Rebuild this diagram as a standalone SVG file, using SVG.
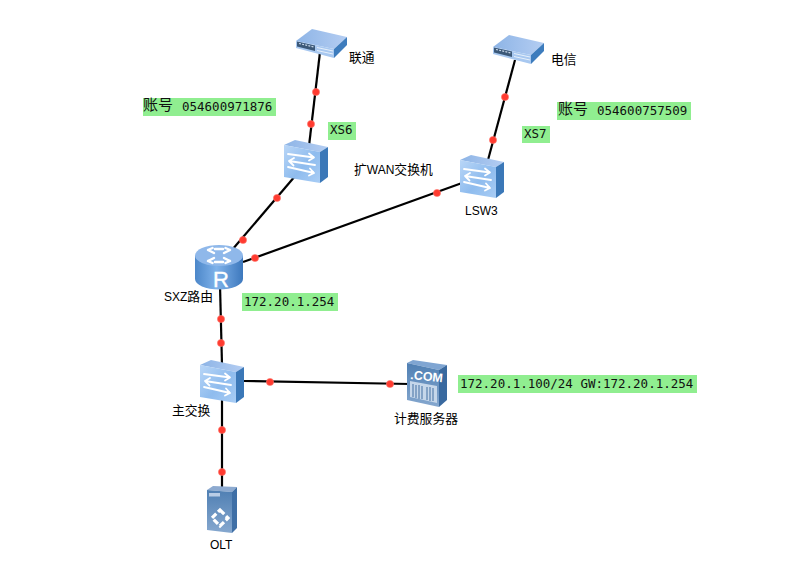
<svg xmlns="http://www.w3.org/2000/svg" width="808" height="576" viewBox="0 0 808 576">
  <style>
    .link { stroke: #000; stroke-width: 2.2; fill: none; }
    .dot { fill: #ff3b30; stroke: #ff7a70; stroke-width: 0.6; }
    .label { font-family: "Liberation Sans", "Noto Sans CJK SC", sans-serif; font-size: 12px; fill: #000; }
    .han { font-family: "Noto Sans CJK SC", sans-serif; font-size: 12.8px; font-weight: 400; }
    .note { fill: #90ee90; }
    .mono { font-family: "DejaVu Sans Mono", "Liberation Mono", monospace; font-size: 12.5px; fill: #111; }
    .cjk { font-family: "Noto Sans CJK SC", sans-serif; font-size: 15px; font-weight: 400; }
    .arrow { stroke: #fff; stroke-width: 1.8; fill: none; stroke-linecap: round; stroke-linejoin: round; }
    .spoke { stroke-width: 2.4; }
  </style>
  <defs>
    <linearGradient id="front" x1="0" y1="0" x2="1" y2="1">
      <stop offset="0" stop-color="#b9d6f7"/>
      <stop offset="0.55" stop-color="#8fbcee"/>
      <stop offset="1" stop-color="#a9cdf5"/>
    </linearGradient>
    <linearGradient id="top" x1="0" y1="0" x2="1" y2="0">
      <stop offset="0" stop-color="#8db4e6"/>
      <stop offset="1" stop-color="#b4cdf2"/>
    </linearGradient>
    <linearGradient id="drum" x1="0" y1="0" x2="1" y2="0">
      <stop offset="0" stop-color="#4c87c9"/>
      <stop offset="0.45" stop-color="#7fb2ea"/>
      <stop offset="1" stop-color="#3d78bd"/>
    </linearGradient>
    <linearGradient id="slate" x1="0" y1="0" x2="0" y2="1">
      <stop offset="0" stop-color="#4f7fb3"/>
      <stop offset="1" stop-color="#86a8cf"/>
    </linearGradient>
    <g id="switch">
      <polygon points="0,5 11,0 44,7 36,12" fill="url(#top)"/>
      <polygon points="0,5 36,12 36,43 0,37" fill="url(#front)"/>
      <polygon points="36,12 44,7 44,37 36,43" fill="#3b78b8"/>
      <path class="arrow" d="M4,14 L30,17.5 M25,13.5 L30,17.5 L25,20.5"/>
      <path class="arrow" d="M31,25 L5,21 M10,18 L5,21 L9.5,25.5"/>
      <path class="arrow" d="M4,27 L30,33 M26,28.5 L30,33 L25,35.5"/>
    </g>
    <g id="modem">
      <polygon points="0,12 16,0 51,8 38,20" fill="url(#top)"/>
      <polygon points="0,12 38,20 38,29 0,19" fill="#a8c8f0"/>
      <polygon points="1,12.5 19,16.5 19,22 1,17.5" fill="#3b5878"/>
      <path d="M3,14.5 L18,18" stroke="#c6d6e8" stroke-width="1.2" stroke-dasharray="2 1.2"/>
      <polygon points="38,20 51,8 51,16 38,29" fill="#3d7cbd"/>
      <path d="M21,18.5 L37,22 M21,21.5 L37,25" stroke="#e6f0fb" stroke-width="1"/>
    </g>
  </defs>

  <g id="connectors">
    <line class="link" x1="320" y1="52" x2="309" y2="146"/>
    <line class="link" x1="296" y1="175" x2="232" y2="250"/>
    <line class="link" x1="243" y1="262" x2="462" y2="183"/>
    <line class="link" x1="515" y1="60" x2="488" y2="160"/>
    <line class="link" x1="220" y1="285" x2="222" y2="365"/>
    <line class="link" x1="244" y1="381" x2="410" y2="384"/>
    <line class="link" x1="222" y1="400" x2="222" y2="490"/>
    <circle class="dot" cx="316" cy="92" r="3.6"/>
    <circle class="dot" cx="311" cy="124" r="3.6"/>
    <circle class="dot" cx="277" cy="198" r="3.6"/>
    <circle class="dot" cx="243" cy="240" r="3.6"/>
    <circle class="dot" cx="255" cy="258" r="3.6"/>
    <circle class="dot" cx="437" cy="193" r="3.6"/>
    <circle class="dot" cx="505" cy="97" r="3.6"/>
    <circle class="dot" cx="493" cy="140" r="3.6"/>
    <circle class="dot" cx="221" cy="319" r="3.6"/>
    <circle class="dot" cx="221" cy="343" r="3.6"/>
    <circle class="dot" cx="270" cy="382" r="3.6"/>
    <circle class="dot" cx="390" cy="384" r="3.6"/>
    <circle class="dot" cx="222" cy="430" r="3.6"/>
    <circle class="dot" cx="222" cy="472" r="3.6"/>
  </g>

  <g id="unicom">
    <use href="#modem" x="296" y="29"/>
    <text class="label han" x="349" y="62">联通</text>
  </g>
  <g id="telecom">
    <use href="#modem" x="493" y="35"/>
    <text class="label han" x="551" y="64">电信</text>
  </g>
  <g id="wan-switch">
    <use href="#switch" x="284" y="140"/>
    <text class="label" x="354" y="174"><tspan class="han">扩</tspan>WAN<tspan class="han">交换机</tspan></text>
  </g>
  <g id="lsw3">
    <use href="#switch" x="460" y="155"/>
    <text class="label" x="465" y="215">LSW3</text>
  </g>
  <g id="router">
    <path d="M195,256 V279 A24,10.5 0 0 0 243,279 V256 Z" fill="url(#drum)"/>
    <ellipse cx="219" cy="255.5" rx="24" ry="10.5" fill="#8fb8ea"/>
    <path class="arrow spoke" d="M208,250 L214,253 M208,250 L212.5,248 M230,250 L224,253 M230,250 L225.5,248 M208,261 L214,258 M208,261 L212.5,263 M230,261 L224,258 M230,261 L225.5,263 M215,249 L223,249 M215,262 L223,262"/>
    <text x="221" y="287" font-family="Liberation Sans, sans-serif" font-size="22" fill="#fff" stroke="#fff" stroke-width="0.4" text-anchor="middle">R</text>
    <text class="label" x="164" y="301">SXZ<tspan class="han">路由</tspan></text>
  </g>
  <g id="main-switch">
    <use href="#switch" x="200" y="360"/>
    <text class="label han" x="172" y="415">主交换</text>
  </g>
  <g id="billing-server">
    <polygon points="407,363 413,360 447,365 439,370" fill="#7fa5d2"/>
    <polygon points="407,363 439,370 439,407 407,400" fill="url(#slate)"/>
    <polygon points="439,370 447,365 447,400 439,407" fill="#39699f"/>
    <text x="410" y="379" font-family="Liberation Sans, sans-serif" font-size="12.5" font-weight="bold" fill="#fff" transform="rotate(6 410 379)">.COM</text>
    <polygon points="410,381 437,386 437,403 410,397" fill="#c6d7ea"/>
    <path d="M413,384 V397 M416,385 V398 M419,385 V399 M422,386 V399 M427,387 V400 M430,387 V401 M433,388 V401" stroke="#6f93bb" stroke-width="1.5"/>
    <text class="label han" x="394" y="423">计费服务器</text>
  </g>
  <g id="olt">
    <polygon points="207,490 213,486 237,487 232,492" fill="#8daad0"/>
    <polygon points="207,490 232,492 232,533 207,530" fill="url(#slate)"/>
    <polygon points="232,492 237,487 237,528 232,533" fill="#3f6fa6"/>
    <rect x="209" y="493" width="11" height="3.5" fill="#b9cde6"/>
    <path d="M220,510 L228,518 L220,526 L212,518 Z" fill="none" stroke="#fff" stroke-width="3.2" stroke-dasharray="6 2.5"/>
    <text class="label" x="210" y="549">OLT</text>
  </g>

  <g id="notes">
    <rect class="note" x="143" y="98" width="133" height="18"/>
    <text class="mono" x="143" y="110"><tspan class="cjk">账号</tspan><tspan x="182" y="111">054600971876</tspan></text>
    <rect class="note" x="328" y="122" width="28" height="18"/>
    <text class="mono" x="330" y="134">XS6</text>
    <rect class="note" x="557" y="102" width="134" height="18"/>
    <text class="mono" x="558" y="114"><tspan class="cjk">账号</tspan><tspan x="597" y="115">054600757509</tspan></text>
    <rect class="note" x="522" y="126" width="28" height="17"/>
    <text class="mono" x="524" y="138">XS7</text>
    <rect class="note" x="242" y="293" width="96" height="18"/>
    <text class="mono" x="244" y="306">172.20.1.254</text>
    <rect class="note" x="458" y="375" width="239" height="18"/>
    <text class="mono" x="460" y="388">172.20.1.100/24 GW:172.20.1.254</text>
  </g>
</svg>
